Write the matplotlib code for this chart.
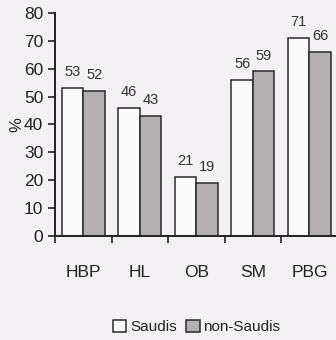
import numpy as np
import matplotlib
matplotlib.use("Agg")
import matplotlib.pyplot as plt
from matplotlib.ticker import FixedLocator

plt.rcParams['font.family'] = ['Liberation Sans Narrow', 'Liberation Sans', 'DejaVu Sans']

categories = ['HBP', 'HL', 'OB', 'SM', 'PBG']
saudis = [53, 46, 21, 56, 71]
non_saudis = [52, 43, 19, 59, 66]

bg = '#f3f1f3'
fig = plt.figure(figsize=(3.36, 3.40), dpi=100, facecolor=bg)
ax = fig.add_axes([0.164, 0.306, 0.836, 0.656], facecolor=bg)

x = np.arange(len(categories))
w = 0.38
b1 = ax.bar(x - w / 2, saudis, w, color='#fbfafb', edgecolor='#2a2a2a', linewidth=1.1, label='Saudis')
b2 = ax.bar(x + w / 2, non_saudis, w, color='#b4afb0', edgecolor='#2a2a2a', linewidth=1.1, label='non-Saudis')

# value labels above bars
for xi, v in zip(x - w / 2, saudis):
    ax.text(xi, v + 3.2, str(v), ha='center', va='bottom', fontsize=10.5, color='#333333')
for xi, v in zip(x + w / 2, non_saudis):
    ax.text(xi, v + 3.2, str(v), ha='center', va='bottom', fontsize=10.5, color='#333333')

ax.set_xlim(-0.5, 4.47)
ax.set_ylim(0, 80)
ax.set_yticks(range(0, 81, 10))
ax.set_xticks(x)
ax.set_xticklabels(categories)
ax.xaxis.set_minor_locator(FixedLocator(np.arange(-0.5, 4.5, 1.0)))
ax.tick_params(axis='x', which='major', length=0, pad=21, labelsize=12.5, colors='#222222')
ax.tick_params(axis='x', which='minor', length=5, width=1.2, direction='out', color='#222222')
ax.tick_params(axis='y', length=5, width=1.2, direction='out', labelsize=12.5, colors='#222222')
ax.set_ylabel('%', fontsize=12, color='#222222', labelpad=0)

for s in ['top', 'right']:
    ax.spines[s].set_visible(False)
for s in ['left', 'bottom']:
    ax.spines[s].set_linewidth(1.4)
    ax.spines[s].set_color('#222222')

fig.legend(handles=[b1, b2], loc='center', bbox_to_anchor=(0.585, 0.038), ncol=2,
           frameon=False, fontsize=11, handlelength=0.9, handleheight=0.9,
           handletextpad=0.25, columnspacing=0.6, labelcolor='#222222')

fig.savefig('out.png', dpi=100, facecolor=bg)
